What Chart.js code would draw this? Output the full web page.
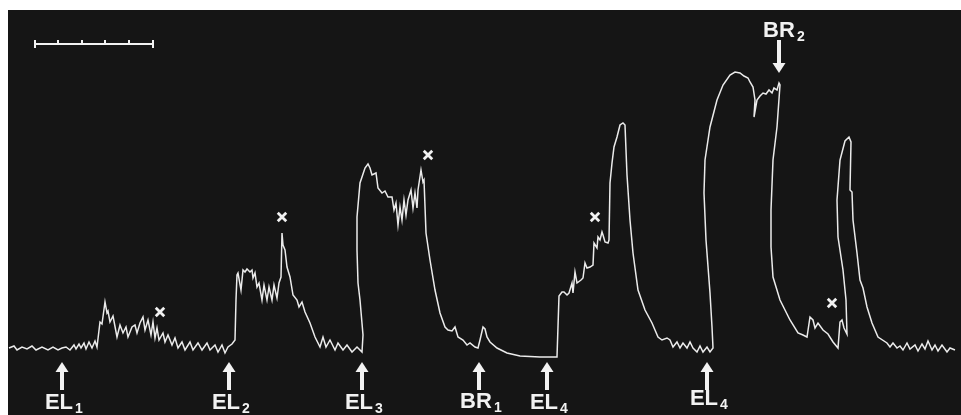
<!DOCTYPE html>
<html>
<head>
<meta charset="utf-8">
<script src="https://cdn.jsdelivr.net/npm/chart.js@4.4.1/dist/chart.umd.min.js"></script>
<style>
  html, body { margin: 0; padding: 0; background: #fff; }
  #wrap { position: relative; width: 961px; height: 415px; overflow: hidden; }
  #plate { position: absolute; left: 8px; top: 10px; width: 953px; height: 405px; background: #151515; }
  #trace { position: absolute; left: 0; top: 0; }
</style>
</head>
<body>
<div id="wrap">
  <div id="plate"></div>
  <canvas id="trace" width="961" height="415"></canvas>
</div>
<script>
// recording: time along the record and deflection above the resting baseline
const traceTime = [
  9, 14, 17, 22, 27, 32, 36, 42, 48, 53, 58, 62, 66, 70, 74, 76, 79, 81, 84, 86, 89, 92, 95, 97,
  100, 102, 105, 107, 108, 110, 113, 117, 120, 123, 126, 128, 132, 135, 137, 140, 143, 145, 148, 151,
  153, 155, 157, 159, 163, 165, 168, 172, 175, 178, 182, 185, 190, 193, 198, 202, 207, 210, 215, 218,
  222, 225, 228, 232, 235,
  236, 237, 238, 241, 243, 245, 247, 250, 252, 253, 255, 257, 259, 262, 264, 267, 269, 272, 274, 277,
  279, 281, 282, 283, 285, 287, 290, 293, 297, 299, 302, 305, 310, 315, 320, 323, 326, 330, 335, 338,
  343, 347, 352, 357, 362,
  363, 360, 358, 357, 357, 360, 365, 368, 370, 372, 376, 378, 382, 385, 388, 392, 394, 396, 398, 400,
  402, 404, 406, 408, 411, 413, 415, 417, 418, 421, 423, 424, 426, 430, 435, 440, 445, 448, 452, 455,
  458, 463, 467, 470, 475, 478, 480, 483, 485, 487, 490, 497, 507, 520, 540, 557,
  559, 562, 564, 567, 569, 572, 573, 575, 577, 581, 583, 585, 587, 590, 593, 594, 597, 598, 600, 602,
  603, 605, 608, 609, 610, 612, 614, 617, 620, 623, 625, 627, 628, 630, 633, 638, 645, 652, 658, 662,
  667, 670, 673, 677, 680, 683, 687, 690, 693, 697, 700, 703, 707, 710, 713,
  712, 710, 706, 704, 705, 710, 717, 723, 730, 735, 740, 744, 748, 750, 753, 755, 754, 757, 760, 763,
  766, 769, 772, 774, 777, 779, 780, 777, 773, 771, 771, 773, 780, 790, 798, 803, 807,
  810, 813, 815, 818, 823, 828, 833, 838, 840, 842, 844, 847, 846, 843, 838, 837, 840, 845, 849, 851,
  850, 852, 853, 857, 860, 863, 867, 872, 878, 887, 890, 893, 897, 900, 903, 907, 910, 915, 918, 922,
  925, 928, 932, 935, 938, 942, 947, 950, 955
];
const traceLevel = [
  2, 4, 0, 3, 1, 4, 0, 3, 0, 3, 0, 2, 3, 0, 5, 1, 6, 2, 7, 1, 8, 2, 9, 3,
  28, 26, 48, 37, 39, 28, 34, 13, 25, 17, 23, 13, 23, 25, 17, 27, 33, 20, 30, 15,
  28, 12, 22, 10, 17, 8, 15, 5, 12, 2, 8, 0, 8, 0, 7, 0, 7, 0, 5, -2,
  5, -3, 3, 6, 10,
  50, 75, 77, 60, 80, 78, 81, 78, 80, 72, 77, 63, 67, 50, 65, 50, 63, 50, 65, 52,
  67, 73, 117, 105, 100, 83, 73, 55, 50, 43, 48, 38, 27, 13, 3, 13, 3, 10, 0, 7,
  0, 5, -2, 3, -2,
  15, 50, 67, 100, 133, 167, 182, 186, 182, 175, 177, 162, 157, 159, 153, 153, 140, 147, 125, 143,
  130, 150, 135, 150, 160, 142, 157, 142, 160, 180, 168, 170, 117, 90, 60, 37, 23, 20, 19, 23,
  13, 10, 5, 7, 3, 2, 10, 23, 21, 13, 8, 2, -3, -6, -7, -7,
  54, 58, 58, 55, 57, 67, 57, 78, 67, 70, 72, 87, 82, 83, 85, 107, 102, 113, 110, 118,
  115, 108, 107, 110, 167, 187, 203, 213, 225, 227, 225, 175, 160, 130, 97, 60, 40, 27, 13, 10,
  12, 10, 3, 8, 2, 7, 2, 8, 2, -2, 4, -2, 3, -2, 2,
  23, 57, 110, 157, 190, 223, 250, 265, 275, 278, 277, 274, 272, 268, 263, 250, 233, 250, 254, 257,
  256, 260, 257, 262, 260, 267, 265, 223, 190, 140, 103, 73, 50, 30, 17, 15, 13,
  33, 30, 22, 27, 20, 16, 8, 2, 28, 30, 22, 16, 50, 80, 113, 150, 190, 209, 213, 208,
  160, 158, 130, 97, 70, 62, 43, 27, 13, 7, 3, 7, 2, 4, 0, 7, 1, 5, -1, 6,
  1, 9, 0, 5, -1, 5, -2, 2, 0
];

// "x" marks written on the record
const crossTime = [160, 282, 428, 595, 832];
const crossLevel = [38, 133, 195, 133, 47];

// stimulus arrows under the record
const stimTime = [62, 229, 362, 479, 547, 707];
const stimName = ['EL', 'EL', 'EL', 'BR', 'EL', 'EL'];
const stimSub = ['1', '2', '3', '1', '4', '4'];
const stimTextLevel = [-59, -59, -59, -58, -59, -55];

// BR2 arrow above the record
const topTime = 779;
const topName = 'BR';
const topSub = '2';

// time scale bar, top left
const scaleBarTicks = [35, 58, 82, 105, 129, 153];
const scaleBarLevel = 306;

const INK = '#f2f2f2';

function arrow(ctx, x, yTip, yTail) {
  const dir = yTail > yTip ? 1 : -1;
  ctx.fillStyle = INK;
  ctx.strokeStyle = INK;
  ctx.lineWidth = 4;
  ctx.beginPath();
  ctx.moveTo(x, yTip + dir * 6);
  ctx.lineTo(x, yTail);
  ctx.stroke();
  ctx.beginPath();
  ctx.moveTo(x, yTip);
  ctx.lineTo(x - 6.5, yTip + dir * 10);
  ctx.lineTo(x + 6.5, yTip + dir * 10);
  ctx.closePath();
  ctx.fill();
}

function label(ctx, x, y, main, sub) {
  ctx.fillStyle = INK;
  ctx.font = 'bold 22px "Liberation Sans", Arial, sans-serif';
  ctx.textBaseline = 'alphabetic';
  ctx.textAlign = 'left';
  const w = ctx.measureText(main).width;
  const left = x - w / 2 - 3;
  ctx.fillText(main, left, y);
  ctx.font = 'bold 14px "Liberation Sans", Arial, sans-serif';
  ctx.fillText(sub, left + w + 2, y + 4);
}

const notes = {
  id: 'notes',
  afterDatasetsDraw(chart) {
    const ctx = chart.ctx;
    const xs = chart.scales.x;
    const ys = chart.scales.y;
    ctx.save();

    // scale bar
    const yb = ys.getPixelForValue(scaleBarLevel);
    ctx.strokeStyle = INK;
    ctx.lineWidth = 2;
    ctx.beginPath();
    ctx.moveTo(xs.getPixelForValue(scaleBarTicks[0]), yb);
    ctx.lineTo(xs.getPixelForValue(scaleBarTicks[scaleBarTicks.length - 1]), yb);
    scaleBarTicks.forEach((t, i) => {
      const px = xs.getPixelForValue(t);
      const end = i === 0 || i === scaleBarTicks.length - 1;
      ctx.moveTo(px, yb - 4);
      ctx.lineTo(px, end ? yb + 4 : yb);
    });
    ctx.stroke();

    // stimulus arrows + labels
    stimTime.forEach((t, i) => {
      const px = xs.getPixelForValue(t);
      arrow(ctx, px, ys.getPixelForValue(-12), ys.getPixelForValue(-40));
      label(ctx, px, ys.getPixelForValue(stimTextLevel[i]), stimName[i], stimSub[i]);
    });

    // BR2 at top
    const tx = xs.getPixelForValue(topTime);
    label(ctx, tx + 3, ys.getPixelForValue(313), topName, topSub);
    arrow(ctx, tx, ys.getPixelForValue(277), ys.getPixelForValue(310));

    ctx.restore();
  }
};

new Chart(document.getElementById('trace'), {
  type: 'scatter',
  data: {
    datasets: [
      {
        data: traceTime.map((t, i) => ({ x: t, y: traceLevel[i] })),
        showLine: true,
        borderColor: '#ebebeb',
        borderWidth: 1.5,
        pointRadius: 0,
        tension: 0
      },
      {
        data: crossTime.map((t, i) => ({ x: t, y: crossLevel[i] })),
        pointStyle: 'crossRot',
        pointRadius: 6,
        borderWidth: 2.8,
        borderColor: INK
      }
    ]
  },
  options: {
    responsive: false,
    animation: false,
    events: [],
    layout: { padding: 0, autoPadding: false },
    plugins: { legend: { display: false }, tooltip: { enabled: false } },
    scales: {
      x: { type: 'linear', min: 0, max: 961, display: false },
      y: { type: 'linear', min: -65, max: 350, display: false }
    }
  },
  plugins: [notes]
});
</script>
</body>
</html>
